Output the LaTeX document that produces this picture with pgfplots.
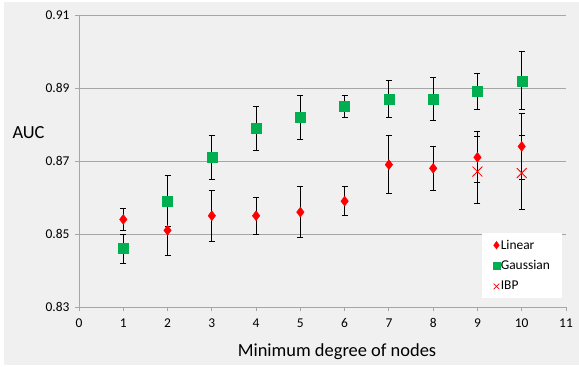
\documentclass[border=0pt]{standalone}
\usepackage{fontspec}
\setmainfont{Carlito}
\usepackage{pgfplots}
\pgfplotsset{compat=1.18}
\usetikzlibrary{backgrounds}
\definecolor{bgc}{HTML}{F0F0F0}
\definecolor{gridc}{HTML}{A6A6A6}
\definecolor{xgreen}{HTML}{00B050}
\definecolor{xred}{HTML}{FF0000}
\begin{document}
\begin{tikzpicture}
\begin{axis}[
  at={(79bp,60bp)}, anchor=south west,
  scale only axis, width=487bp, height=292bp,
  xmin=0, xmax=11, ymin=0.83, ymax=0.91,
  xtick={0,1,...,11},
  ytick={0.83,0.85,0.87,0.89,0.91},
  yticklabel style={xshift=-2bp, /pgf/number format/fixed, /pgf/number format/fixed zerofill, /pgf/number format/precision=2},
  /pgf/number format/assume math mode=true,
  ticklabel style={font=\fontsize{13.5}{15}\selectfont},
  xticklabel style={yshift=-4bp},
  axis lines*=left,
  axis line style={gridc, line width=1bp},
  tick align=outside,
  major tick length=4bp,
  tick style={gridc, line width=1bp},
  ymajorgrids,
  grid style={gridc, line width=1bp},
  clip=false,
  legend style={at={(rel axis cs:0.8275,0.2545)}, anchor=north west,
    fill=white, draw=none, font=\fontsize{13.5}{15}\selectfont,
    row sep=6bp, inner xsep=11bp, inner ysep=5bp,
    nodes={inner xsep=1bp}},
  legend cell align=left,
  legend image code/.code={\draw plot coordinates {(0.2cm,0cm)};},
  error bars/error bar style={black, line width=0.9bp},
  error bars/error mark options={rotate=90, mark size=3bp, black, line width=0.9bp},
]
\addlegendimage{only marks, mark=diamond*, mark size=3.8bp, color=xred}
\addlegendentry{Linear}
\addlegendimage{only marks, mark=square*, mark size=3.3bp, color=xgreen}
\addlegendentry{Gaussian}
\addlegendimage{only marks, mark=x, mark size=4bp, color=xred, line width=0.7bp}
\addlegendentry{IBP}
\addplot[forget plot, only marks, mark=diamond*, mark size=5bp, color=xred,
  error bars/.cd, y dir=both, y explicit]
coordinates {
 (1,0.854) +- (0,0.003)
 (2,0.851) +- (0,0.007)
 (3,0.855) +- (0,0.007)
 (4,0.855) +- (0,0.005)
 (5,0.856) +- (0,0.007)
 (6,0.859) +- (0,0.004)
 (7,0.869) +- (0,0.008)
 (8,0.868) +- (0,0.006)
 (9,0.871) +- (0,0.007)
 (10,0.874) +- (0,0.009)
};
\addplot[forget plot, only marks, mark=square*, mark size=5bp, color=xgreen,
  error bars/.cd, y dir=both, y explicit]
coordinates {
 (1,0.846) +- (0,0.004)
 (2,0.859) +- (0,0.007)
 (3,0.871) +- (0,0.006)
 (4,0.879) +- (0,0.006)
 (5,0.882) +- (0,0.006)
 (6,0.885) +- (0,0.003)
 (7,0.887) +- (0,0.005)
 (8,0.887) +- (0,0.006)
 (9,0.889) +- (0,0.005)
 (10,0.892) +- (0,0.008)
};
\addplot[forget plot, only marks, mark=x, mark size=7bp, color=xred, line width=0.8bp,
  error bars/.cd, y dir=both, y explicit]
coordinates {
 (9,0.8671) += (0,0.0097) -= (0,0.0087)
 (10,0.8667) += (0,0.0102) -= (0,0.0100)
};
\end{axis}
\node[anchor=west, font=\fontsize{18.5}{20}\selectfont] at (9bp,234bp) {AUC};
\node[anchor=center, font=\fontsize{18.5}{20}\selectfont] at (337bp,15bp) {Minimum degree of nodes};
\begin{scope}[on background layer]
\fill[white] (0,0) rectangle (579bp,367bp);
\fill[bgc] (4bp,2bp) rectangle (579bp,365bp);
\end{scope}
\pgfresetboundingbox
\path (0,0) rectangle (579bp,367bp);
\end{tikzpicture}
\end{document}
